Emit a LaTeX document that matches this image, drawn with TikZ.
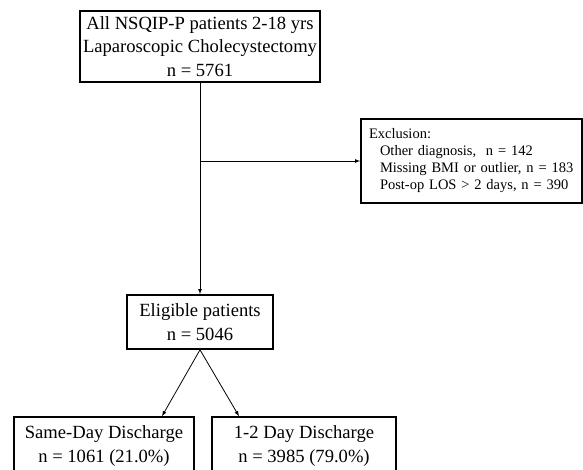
\documentclass[tikz,border=0pt]{standalone}
\usepackage{fontspec}
\setmainfont{Liberation Serif}
\usetikzlibrary{calc}

\begin{document}
\begin{tikzpicture}[x=1pt,y=-1pt,>=latex,
  box/.style={draw,line width=1.6pt,inner sep=0pt,align=center,
    font=\fontsize{18.6}{23.5}\selectfont},
  link/.style={line width=0.8pt}]
\useasboundingbox (0,0) rectangle (583,469);

\node[box,minimum width=240pt,minimum height=71pt] (all) at (200,46.5)
  {All NSQIP-P patients 2-18 yrs\\Laparoscopic Cholecystectomy\\n = 5761};

\node[box,minimum width=221pt,minimum height=84pt,text width=205pt,
  inner xsep=8pt,align=left,font=\fontsize{14.5}{17}\selectfont] (excl) at (471.5,161)
  {Exclusion:\\
   \hspace*{11pt}Other diagnosis,\ \ n = 142\\
   \hspace*{11pt}Missing BMI or outlier, n = 183\\
   \hspace*{11pt}Post-op LOS > 2 days, n = 390};

\node[box,minimum width=146pt,minimum height=54pt] (elig) at (200,322)
  {Eligible patients\\n = 5046};

\node[box,minimum width=180pt,minimum height=58pt] (same) at (104,446)
  {Same-Day Discharge\\n = 1061 (21.0\%)};
\node[box,minimum width=184pt,minimum height=58pt] (late) at (304,446)
  {1-2 Day Discharge\\n = 3985 (79.0\%)};

% flow
\coordinate (split) at (all.south |- excl.west);
\draw[link,->] (all.south) -- (elig.north);
\draw[link,->] (split) -- (excl.west);
\draw[link,->] (elig.south) -- ([xshift=58pt]same.north);
\draw[link,->] (elig.south) -- ([xshift=-65pt]late.north);
\end{tikzpicture}
\end{document}
